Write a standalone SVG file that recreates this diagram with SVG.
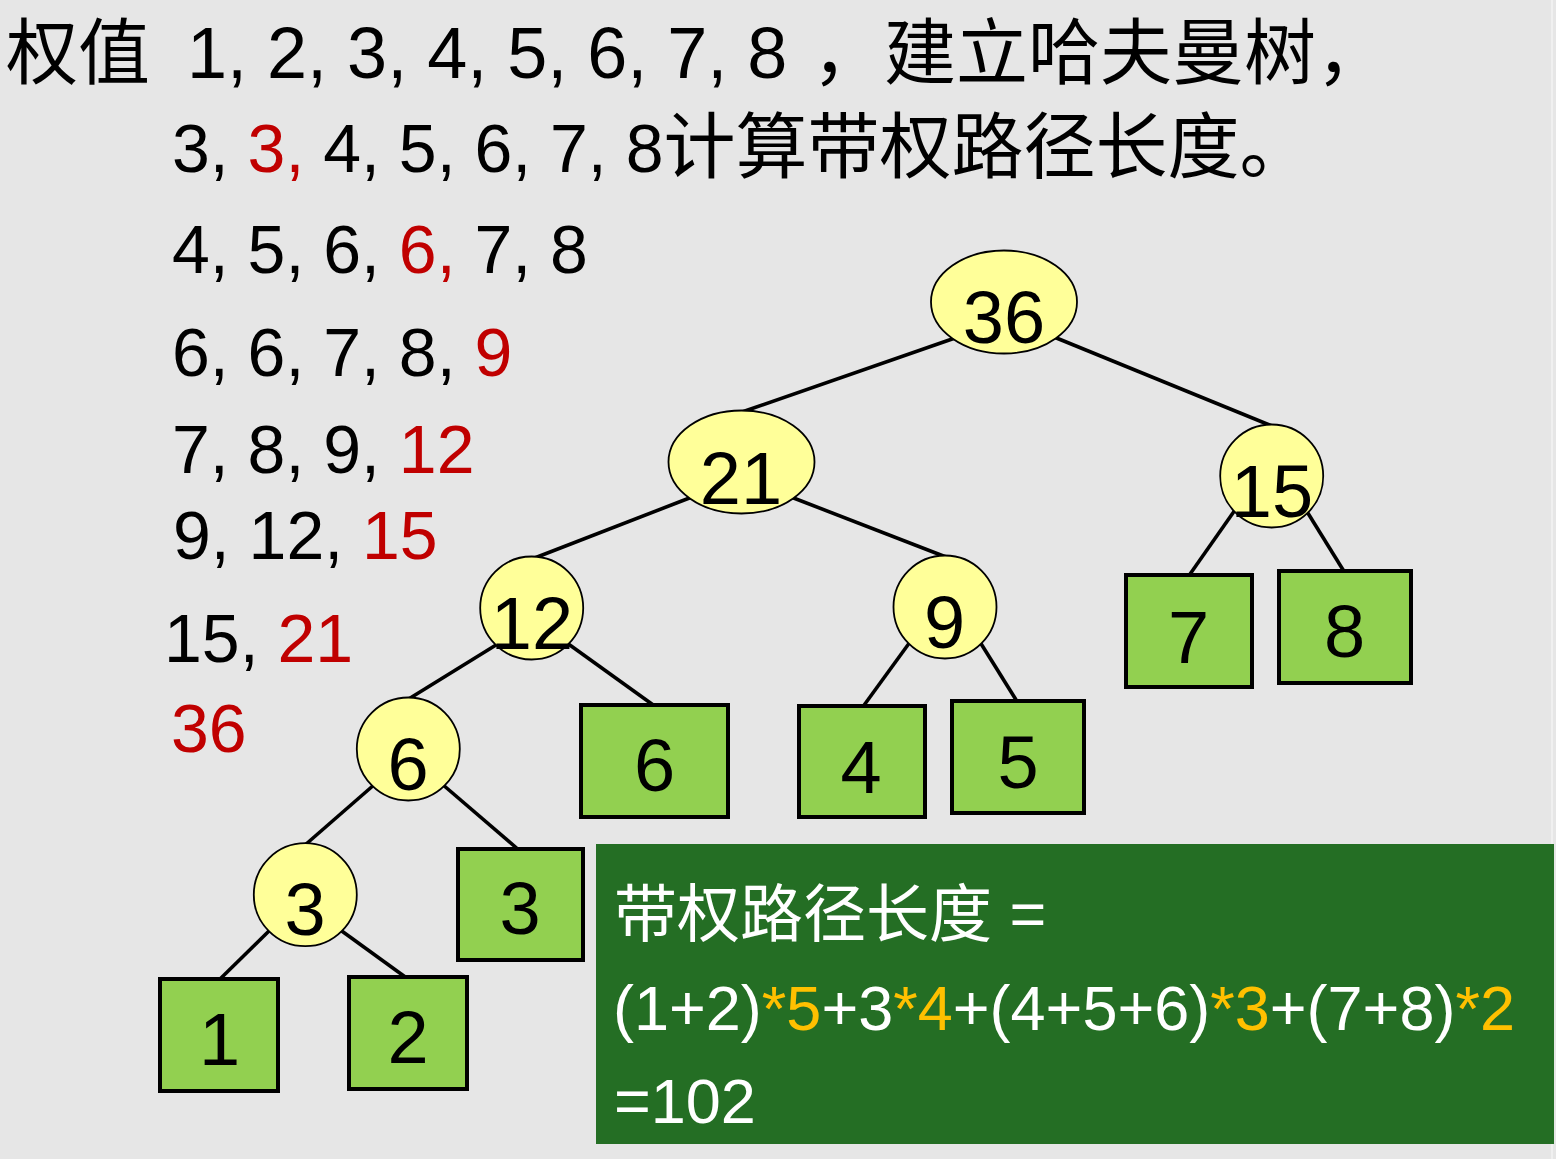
<svg xmlns="http://www.w3.org/2000/svg" width="1556" height="1159" viewBox="0 0 1556 1159">
<style>
text{font-family:"Liberation Sans","Noto Sans CJK SC",sans-serif;}
.cjk{font-family:"Noto Sans CJK SC","Liberation Sans",sans-serif;}
.list{font-size:68px;fill:#000;}
.red{fill:#c00000;}
.org{fill:#ffc000;}
.lbl{font-size:74px;fill:#000;text-anchor:middle;}
.inner{fill:#ffff99;stroke:#000;stroke-width:1.8;}
.leaf{fill:#92d050;stroke:#000;stroke-width:4;}
.edge{stroke:#000;stroke-width:3.6;fill:none;}
.pan{font-size:63px;fill:#fff;}
</style>
<rect width="1556" height="1159" fill="#e6e6e6"/>
<line x1="1552" y1="0" x2="1552" y2="1159" stroke="#f3f3f3" stroke-width="1.5"/>

<g id="title">
<text x="6" y="78" font-size="72" fill="#000"><tspan class="cjk">权值</tspan><tspan x="187">1, 2, 3, 4, 5, 6, 7, 8</tspan><tspan x="812" class="cjk">，建立哈夫曼树，</tspan></text>
<text x="172" y="172" class="list">3, <tspan class="red">3,</tspan> 4, 5, 6, 7, 8<tspan class="cjk" font-size="72">计算带权路径长度。</tspan></text>
</g>

<g id="steps">
<text x="172" y="273" class="list">4, 5, 6, <tspan class="red">6,</tspan> 7, 8</text>
<text x="172" y="376" class="list">6, 6, 7, 8, <tspan class="red">9</tspan></text>
<text x="172" y="473" class="list">7, 8, 9, <tspan class="red">12</tspan></text>
<text x="173" y="559" class="list">9, 12, <tspan class="red">15</tspan></text>
<text x="164" y="662" class="list">15, <tspan class="red">21</tspan></text>
<text x="171" y="752" class="list"><tspan class="red">36</tspan></text>
</g>

<g id="connectors">
<line class="edge" x1="955" y1="338" x2="742" y2="412"/>
<line class="edge" x1="1054" y1="337" x2="1272" y2="426"/>
<line class="edge" x1="692" y1="497" x2="532" y2="559"/>
<line class="edge" x1="791" y1="497" x2="946" y2="557"/>
<line class="edge" x1="496" y1="645" x2="407" y2="700"/>
<line class="edge" x1="567" y1="643" x2="656" y2="707"/>
<line class="edge" x1="910" y1="642" x2="862" y2="708"/>
<line class="edge" x1="980" y1="642" x2="1018" y2="703"/>
<line class="edge" x1="1235" y1="510" x2="1188" y2="577"/>
<line class="edge" x1="1306" y1="510" x2="1345" y2="573"/>
<line class="edge" x1="375" y1="784" x2="305" y2="845"/>
<line class="edge" x1="442" y1="784" x2="520" y2="851"/>
<line class="edge" x1="271" y1="929" x2="218" y2="981"/>
<line class="edge" x1="339" y1="929" x2="408" y2="979"/>
</g>

<g id="n36"><ellipse class="inner" cx="1004" cy="302" rx="73" ry="51.5"/><text class="lbl" x="1004" y="343">36</text></g>
<g id="n21"><ellipse class="inner" cx="741.5" cy="462" rx="73" ry="51.5"/><text class="lbl" x="741" y="503.5">21</text></g>
<g id="n15"><circle class="inner" cx="1271.7" cy="476" r="51.5"/><text class="lbl" x="1272" y="517">15</text></g>
<g id="n12"><circle class="inner" cx="531.7" cy="608" r="51.5"/><text class="lbl" x="532" y="648.5">12</text></g>
<g id="n9"><circle class="inner" cx="945" cy="607" r="51.5"/><text class="lbl" x="944.5" y="648">9</text></g>
<g id="n6"><circle class="inner" cx="408.3" cy="749" r="51.5"/><text class="lbl" x="408" y="790">6</text></g>
<g id="n3"><circle class="inner" cx="305.3" cy="894.7" r="51.5"/><text class="lbl" x="305" y="935">3</text></g>

<g id="leaf1"><rect class="leaf" x="160" y="979" width="118" height="112"/><text class="lbl" x="219.5" y="1065">1</text></g>
<g id="leaf2"><rect class="leaf" x="349" y="977" width="118" height="112"/><text class="lbl" x="408" y="1063">2</text></g>
<g id="leaf3"><rect class="leaf" x="458" y="849" width="125" height="111"/><text class="lbl" x="520" y="934">3</text></g>
<g id="leaf6"><rect class="leaf" x="581" y="705" width="147" height="112"/><text class="lbl" x="654.5" y="791">6</text></g>
<g id="leaf4"><rect class="leaf" x="799" y="706" width="126" height="111"/><text class="lbl" x="861" y="793">4</text></g>
<g id="leaf5"><rect class="leaf" x="952" y="701" width="132" height="112"/><text class="lbl" x="1018" y="788">5</text></g>
<g id="leaf7"><rect class="leaf" x="1126" y="575" width="126" height="112"/><text class="lbl" x="1188.5" y="663">7</text></g>
<g id="leaf8"><rect class="leaf" x="1279" y="571" width="132" height="112"/><text class="lbl" x="1344.5" y="657">8</text></g>

<g id="result">
<rect x="596" y="844" width="958" height="300" fill="#246e24"/>
<text x="614" y="936" class="pan"><tspan class="cjk">带权路径长度</tspan> =</text>
<text x="613" y="1030" class="pan">(1+2)<tspan class="org">*5</tspan>+3<tspan class="org">*4</tspan>+(4+5+6)<tspan class="org">*3</tspan>+(7+8)<tspan class="org">*2</tspan></text>
<text x="614" y="1123" class="pan">=102</text>
</g>
</svg>
